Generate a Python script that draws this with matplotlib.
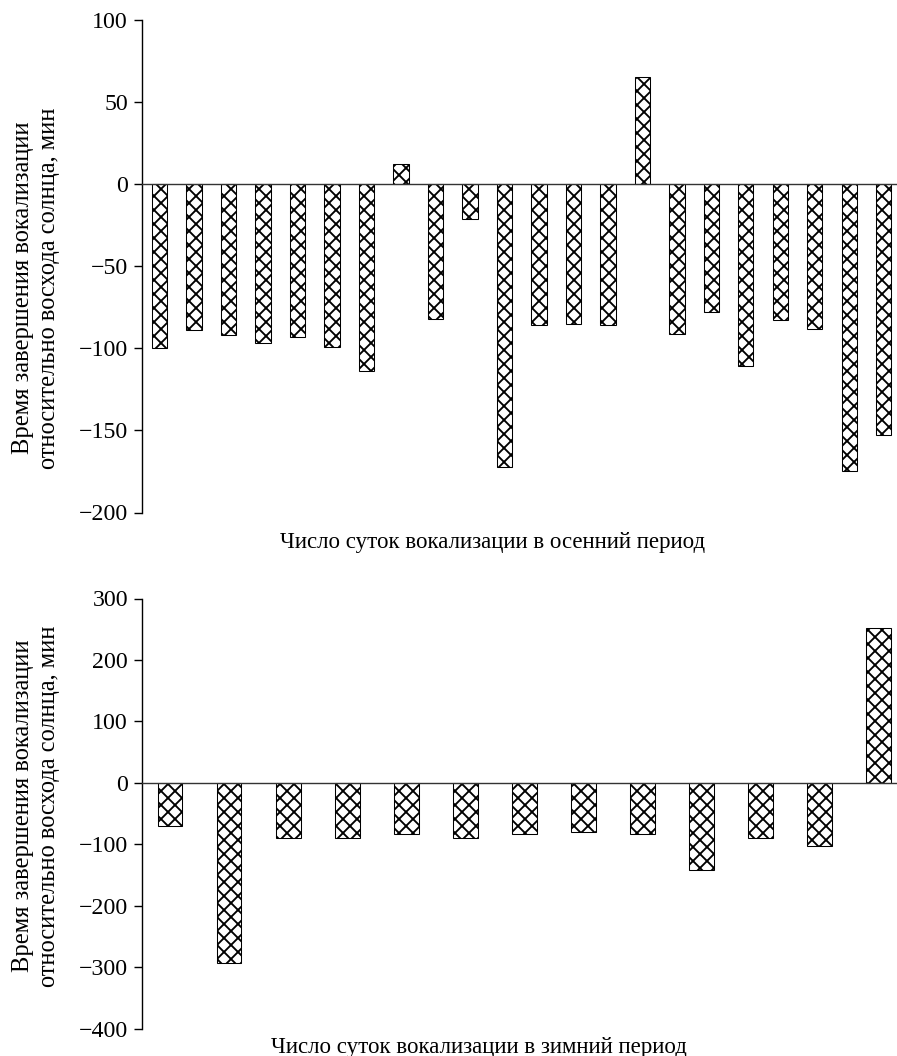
import matplotlib
matplotlib.use("Agg")
import matplotlib.pyplot as plt
import numpy as np

# ---- data ----
autumn_values = [-100, -89, -92, -97, -93, -99, -114, 12, -82, -21, -172,
                 -86, -85, -86, 65, -91, -78, -111, -83, -88, -175, -153]
winter_values = [-70, -293, -90, -90, -83, -89, -83, -80, -83, -142, -89,
                 -103, 252]
autumn_yticks = [-200, -150, -100, -50, 0, 50, 100]
winter_yticks = [-400, -300, -200, -100, 0, 100, 200, 300]
ylabel_text = "Время завершения вокализации\nотносительно восхода солнца, мин"
autumn_xlabel = "Число суток вокализации в осенний период"
winter_xlabel = "Число суток вокализации в зимний период"

DPI = 84
W, H = 897, 1056
plt.rcParams['font.family'] = ['Liberation Serif', 'DejaVu Serif']
plt.rcParams['hatch.linewidth'] = 1.6
plt.rcParams['hatch.color'] = 'black'

fig = plt.figure(figsize=(W / DPI, H / DPI), dpi=DPI)
TICK_FS = 20.5
XL_FS = 19.6
YL_FS = 21


def style(ax, yticks, ylim):
    ax.set_ylim(*ylim)
    ax.set_yticks(yticks)
    ax.set_yticklabels([("\u2212%d" % -t) if t < 0 else str(t) for t in yticks])
    ax.spines['top'].set_visible(False)
    ax.spines['right'].set_visible(False)
    ax.spines['bottom'].set_position(('data', 0))
    ax.spines['left'].set_linewidth(1.2)
    ax.spines['bottom'].set_linewidth(1.2)
    ax.spines['bottom'].set_color('#333333')
    ax.set_xticks([])
    ax.tick_params(axis='y', direction='out', length=7, width=1.2,
                   labelsize=TICK_FS, pad=5)
    ax.patch.set_alpha(0)


# top chart
ax1 = fig.add_axes([142 / W, 1 - 512.5 / H, 1 - 142 / W, (512.5 - 20) / H])
x1 = np.arange(len(autumn_values))
ax1.bar(x1, autumn_values, width=0.44, facecolor='white', edgecolor='black',
        linewidth=0.9, hatch='xx')
ax1.set_xlim(-0.507, 21.38)
style(ax1, autumn_yticks, (-200, 100))

# bottom chart
ax2 = fig.add_axes([142 / W, 1 - 1028.6 / H, 1 - 142 / W, (1028.6 - 598.5) / H])
x2 = np.arange(len(winter_values))
ax2.bar(x2, winter_values, width=0.42, facecolor='white', edgecolor='black',
        linewidth=0.9, hatch='xx')
ax2.set_xlim(-0.474, 12.31)
style(ax2, winter_yticks, (-400, 300))

# labels
fig.text(36 / W, 1 - 288 / H, ylabel_text, rotation=90, ha='center',
         va='center', multialignment='center', fontsize=YL_FS, linespacing=1.25)
fig.text(36 / W, 1 - 806 / H, ylabel_text, rotation=90, ha='center',
         va='center', multialignment='center', fontsize=YL_FS, linespacing=1.25)
fig.text(492.5 / W, 1 - 548 / H, autumn_xlabel, ha='center', va='baseline',
         fontsize=XL_FS)
fig.text(479 / W, 1 - 1053 / H, winter_xlabel, ha='center', va='baseline',
         fontsize=XL_FS)

fig.savefig("out.png", dpi=DPI)
